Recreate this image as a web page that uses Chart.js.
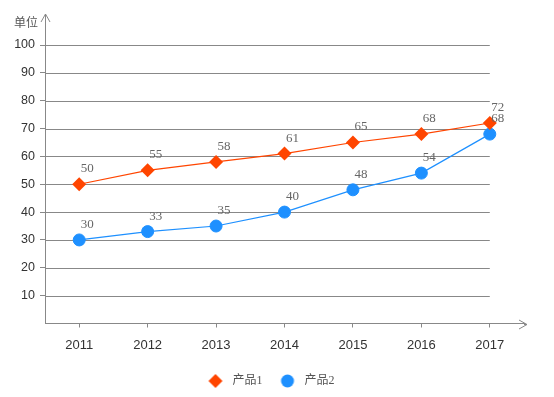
<!DOCTYPE html>
<html>
<head>
<meta charset="utf-8">
<script src="https://cdn.jsdelivr.net/npm/chart.js@4"></script>
<style>
html,body{margin:0;padding:0;background:#fff;}
#wrap{width:554px;height:397px;position:relative;}
</style>
</head>
<body>
<div id="wrap"><canvas id="c" width="554" height="397"></canvas></div>
<script>
const categories = ['2011','2012','2013','2014','2015','2016','2017'];
const product1 = [50, 55, 58, 61, 65, 68, 72];
const product2 = [30, 33, 35, 40, 48, 54, 68];
const seriesNames = ['产品1', '产品2'];
const yTicks = [10, 20, 30, 40, 50, 60, 70, 80, 90, 100];
const unitLabel = '单位';

const ORANGE = '#FF4500';
const BLUE = '#1E90FF';
const AXIS = '#888888';

function legendMarker(kind, color) {
  const c = document.createElement('canvas');
  c.width = 26; c.height = 16;
  const g = c.getContext('2d');
  g.fillStyle = color;
  g.beginPath();
  const cx = 15, cy = 8;
  if (kind === 'diamond') {
    g.moveTo(cx, cy - 7); g.lineTo(cx + 7, cy); g.lineTo(cx, cy + 7); g.lineTo(cx - 7, cy); g.closePath();
  } else {
    g.arc(cx, cy, 6.5, 0, Math.PI * 2);
  }
  g.fill();
  return c;
}
const legendMarkers = [legendMarker('diamond', ORANGE), legendMarker('circle', BLUE)];

const decorPlugin = {
  id: 'decor',
  beforeDatasetsDraw(chart) {
    const ctx = chart.ctx;
    const y = chart.scales.y, x = chart.scales.x;
    const area = chart.chartArea;
    const xEnd = x.getPixelForValue(categories.length - 1);
    ctx.save();
    ctx.strokeStyle = AXIS;
    ctx.lineWidth = 1;
    yTicks.forEach(v => {
      const py = Math.round(y.getPixelForValue(v)) + 0.5;
      ctx.beginPath();
      ctx.moveTo(area.left, py);
      ctx.lineTo(xEnd, py);
      ctx.stroke();
    });
    const ax = Math.round(area.left) + 0.5;
    const ay = Math.round(area.bottom) + 0.5;
    ctx.beginPath();
    ctx.moveTo(ax, area.top);
    ctx.lineTo(ax, 14);
    ctx.moveTo(ax - 4.5, 22);
    ctx.lineTo(ax, 14);
    ctx.lineTo(ax + 4.5, 22);
    ctx.moveTo(area.right, ay);
    ctx.lineTo(527, ay);
    ctx.moveTo(519, ay - 4.5);
    ctx.lineTo(527, ay);
    ctx.lineTo(519, ay + 4.5);
    ctx.stroke();
    ctx.fillStyle = '#555';
    ctx.font = '12px "Noto Sans CJK SC", sans-serif';
    ctx.textAlign = 'right';
    ctx.textBaseline = 'middle';
    ctx.fillText(unitLabel, 38, 22);
    ctx.restore();
  },
  afterDatasetsDraw(chart) {
    const ctx = chart.ctx;
    ctx.save();
    ctx.fillStyle = '#666';
    ctx.font = '13px "Liberation Serif", serif';
    ctx.textAlign = 'center';
    ctx.textBaseline = 'middle';
    chart.data.datasets.forEach((ds, i) => {
      const meta = chart.getDatasetMeta(i);
      meta.data.forEach((pt, j) => {
        ctx.fillText(String(ds.data[j]), pt.x + 8, pt.y - 15.5);
      });
    });
    ctx.restore();
  }
};

new Chart(document.getElementById('c'), {
  type: 'line',
  data: {
    labels: categories,
    datasets: [
      {
        label: seriesNames[0],
        data: product1,
        borderColor: ORANGE,
        backgroundColor: ORANGE,
        borderWidth: 1.2,
        pointStyle: 'rectRot',
        pointRadius: 7,
        pointHoverRadius: 7,
        pointBorderWidth: 0,
        tension: 0,
        fill: false
      },
      {
        label: seriesNames[1],
        data: product2,
        borderColor: BLUE,
        backgroundColor: BLUE,
        borderWidth: 1.2,
        pointStyle: 'circle',
        pointRadius: 6,
        pointHoverRadius: 6,
        pointBorderWidth: 1,
        pointBorderColor: BLUE,
        tension: 0,
        fill: false
      }
    ]
  },
  options: {
    responsive: false,
    animation: false,
    devicePixelRatio: 1,
    layout: { padding: { top: 45, left: 11, right: 30, bottom: 0 } },
    plugins: {
      tooltip: { enabled: false },
      legend: {
        position: 'bottom',
        labels: {
          usePointStyle: true,
          pointStyleWidth: 26,
          boxHeight: 12,
          padding: 10,
          color: '#555',
          font: { size: 12, family: '"Liberation Serif", "Noto Sans CJK SC", serif' },
          generateLabels(chart) {
            return chart.data.datasets.map((ds, i) => ({
              text: ds.label,
              fillStyle: ds.backgroundColor,
              strokeStyle: ds.borderColor,
              lineWidth: 0,
              pointStyle: legendMarkers[i],
              fontColor: '#555',
              hidden: !chart.isDatasetVisible(i),
              datasetIndex: i
            }));
          }
        }
      }
    },
    scales: {
      x: {
        type: 'category',
        offset: true,
        grid: { display: true, offset: false, drawOnChartArea: false, drawTicks: true, tickLength: 4, color: AXIS },
        border: { display: true, color: AXIS, width: 1 },
        ticks: { color: '#333', padding: 10, font: { size: 13, family: '"Liberation Sans", Arial, sans-serif' } },
        afterFit(s) { s.height = 41.5; }
      },
      y: {
        min: 0, max: 100,
        afterBuildTicks(s) { s.ticks = yTicks.map(v => ({ value: v })); },
        grid: { display: true, drawOnChartArea: false, drawTicks: true, tickLength: 5, color: AXIS },
        border: { display: true, color: AXIS, width: 1 },
        ticks: { color: '#333', padding: 5, font: { size: 12.5, family: '"Liberation Sans", Arial, sans-serif' } },
        afterFit(s) { s.width = 34; }
      }
    }
  },
  plugins: [decorPlugin]
});
</script>
</body>
</html>
